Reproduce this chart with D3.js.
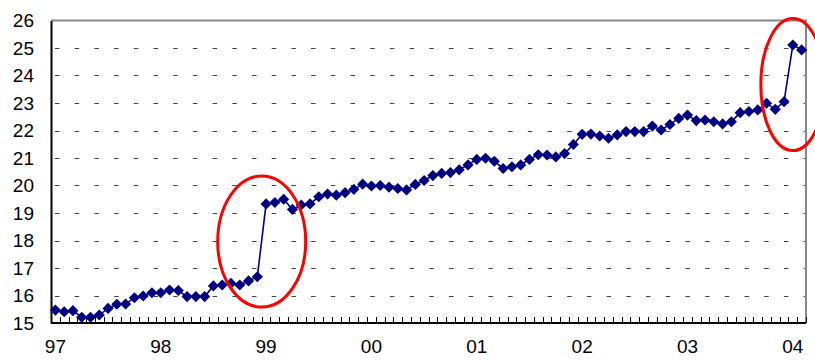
<!DOCTYPE html>
<html>
<head>
<meta charset="utf-8">
<script src="https://cdn.jsdelivr.net/npm/d3@7"></script>
<style>
  html, body { margin: 0; padding: 0; background: #fff; }
  svg { display: block; font-family: "Liberation Sans", Arial, sans-serif; }
</style>
</head>
<body>
<svg id="chart" width="815" height="360"></svg>
<script>
// ---- data ----
const years = ["97", "98", "99", "00", "01", "02", "03", "04"];
const values = [
  15.47, 15.41, 15.45, 15.21, 15.21, 15.29, 15.53, 15.68, 15.69, 15.92, 15.98, 16.10,
  16.10, 16.20, 16.18, 15.96, 15.96, 15.96, 16.35, 16.38, 16.44, 16.38, 16.53, 16.68,
  19.33, 19.38, 19.50, 19.13, 19.29, 19.33, 19.59, 19.69, 19.65, 19.74, 19.86, 20.05,
  19.98, 20.00, 19.94, 19.89, 19.84, 20.04, 20.18, 20.36, 20.44, 20.47, 20.57, 20.75,
  20.95, 20.99, 20.88, 20.62, 20.68, 20.75, 20.95, 21.12, 21.11, 21.04, 21.16, 21.49,
  21.86, 21.87, 21.80, 21.72, 21.84, 21.96, 21.96, 21.96, 22.16, 22.02, 22.22, 22.44,
  22.56, 22.36, 22.38, 22.32, 22.24, 22.32, 22.65, 22.69, 22.75, 22.99, 22.77, 23.05,
  25.11, 24.93
];
const months = values.map((v, i) => years[Math.floor(i / 12)] + "-" + String(i % 12 + 1).padStart(2, "0"));
const yTicks = [15, 16, 17, 18, 19, 20, 21, 22, 23, 24, 25, 26];
// highlighted jumps: month at the centre, value at the centre
const highlights = [
  { month: "98-12", value: 17.96 },
  { month: "04-01", value: 23.67 }
];

// ---- layout ----
const W = 815, H = 360;
const m = { left: 51, right: 9, top: 20.5, bottom: 37 };
const svg = d3.select("#chart");

const x = d3.scaleBand().domain(months).range([m.left, W - m.right]).padding(0);
const y = d3.scaleLinear().domain([15, 26]).range([H - m.bottom, m.top]);
const cx = k => x(k) + x.bandwidth() / 2;

// grid (dashed)
svg.append("g").selectAll("line")
  .data(yTicks.filter(t => t > 15 && t < 26))
  .join("line")
  .attr("x1", m.left + 4).attr("x2", W - m.right)
  .attr("y1", d => Math.round(y(d)) + 0.5).attr("y2", d => Math.round(y(d)) + 0.5)
  .attr("stroke", "#444").attr("stroke-width", 1)
  .attr("stroke-dasharray", "4.5,15.2");

// frame top & right (grey)
svg.append("path")
  .attr("d", `M${m.left},${m.top} H${W - m.right} V${H - m.bottom}`)
  .attr("fill", "none").attr("stroke", "#888").attr("stroke-width", 2);

// x axis with monthly ticks pointing inward
const xAxisG = svg.append("g").attr("transform", `translate(0,${H - m.bottom})`);
const boundaries = months.map(k => x(k)).concat([W - m.right]);
xAxisG.selectAll("line.tick").data(boundaries).join("line")
  .attr("class", "tick")
  .attr("x1", d => Math.round(d) + 0.5).attr("x2", d => Math.round(d) + 0.5)
  .attr("y1", 0).attr("y2", -6)
  .attr("stroke", "#000").attr("stroke-width", 1);
xAxisG.append("line").attr("x1", m.left).attr("x2", W - m.right)
  .attr("y1", 0).attr("y2", 0).attr("stroke", "#000").attr("stroke-width", 2);
xAxisG.selectAll("text").data(years).join("text")
  .attr("x", d => cx(d + "-01"))
  .attr("y", 30)
  .attr("text-anchor", "middle")
  .attr("font-size", 19)
  .attr("fill", "#000")
  .text(d => d);

// y axis
const yAxis = d3.axisLeft(y).tickValues(yTicks).tickSize(0).tickPadding(17).tickFormat(d3.format("d"));
const yG = svg.append("g").attr("transform", `translate(${m.left},0)`).call(yAxis);
yG.select(".domain").attr("stroke", "#000").attr("stroke-width", 2);
yG.selectAll("text").attr("font-size", 19).attr("fill", "#000")
  .attr("font-family", "'Liberation Sans', Arial, sans-serif");

// line
const line = d3.line().x((d, i) => cx(months[i])).y(d => y(d));
svg.append("path").datum(values)
  .attr("d", line)
  .attr("fill", "none").attr("stroke", "#000080").attr("stroke-width", 1.6);

// diamond markers
const sym = d3.symbol().type(d3.symbolSquare).size(62);
svg.append("g").selectAll("path").data(values).join("path")
  .attr("d", sym)
  .attr("transform", (d, i) => `translate(${cx(months[i])},${y(d)}) rotate(45)`)
  .attr("fill", "#000080");

// red ellipses
const radii = [[44, 65.5], [32, 66]];
svg.append("g").selectAll("ellipse").data(highlights).join("ellipse")
  .attr("cx", (d, i) => i === 0 ? x(d.month) + x.bandwidth() : cx(d.month))
  .attr("cy", d => y(d.value))
  .attr("rx", (d, i) => radii[i][0])
  .attr("ry", (d, i) => radii[i][1])
  .attr("fill", "none").attr("stroke", "#ff0000").attr("stroke-width", 3);
</script>
</body>
</html>
